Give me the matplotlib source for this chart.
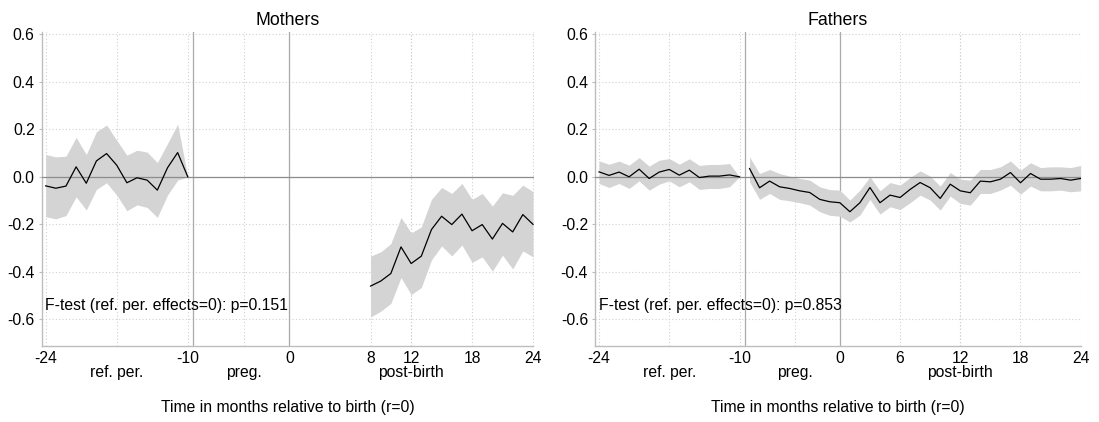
#!/usr/bin/env python3

import matplotlib
matplotlib.use('Agg')
import matplotlib.pyplot as plt
import numpy as np

plt.rcParams['font.family'] = ['Liberation Sans', 'DejaVu Sans']
plt.rcParams['axes.unicode_minus'] = False

# ======================================================================
# Data.
# ======================================================================

ref_months = list(range(-24, -9))          # -24 .. -10
post_months_m = list(range(8, 25))         # mothers: 8 .. 24
after_months_f = list(range(-9, 25))       # fathers: -9 .. 24

m_ref = [-0.038, -0.048, -0.039, 0.042, -0.027, 0.067, 0.098, 0.049, -0.025,
         -0.004, -0.014, -0.056, 0.038, 0.102, 0.0]
m_ref_hi = [0.094, 0.084, 0.087, 0.166, 0.094, 0.190, 0.218, 0.154, 0.091,
            0.112, 0.104, 0.060, 0.140, 0.222, 0.0]
m_ref_lo = [-0.168, -0.177, -0.163, -0.084, -0.140, -0.053, -0.025, -0.077,
            -0.143, -0.118, -0.129, -0.171, -0.077, -0.014, 0.0]

m_post = [-0.460, -0.439, -0.407, -0.295, -0.365, -0.334, -0.222, -0.166,
          -0.201, -0.157, -0.227, -0.201, -0.262, -0.196, -0.232, -0.159, -0.200]
m_post_hi = [-0.334, -0.316, -0.281, -0.171, -0.236, -0.211, -0.095, -0.045,
             -0.070, -0.028, -0.095, -0.070, -0.123, -0.067, -0.078, -0.035, -0.062]
m_post_lo = [-0.590, -0.566, -0.533, -0.424, -0.496, -0.466, -0.350, -0.291,
             -0.333, -0.287, -0.360, -0.337, -0.397, -0.330, -0.388, -0.312, -0.337]

f_ref = [0.021, 0.006, 0.020, 0.0, 0.032, -0.007, 0.020, 0.031, 0.007, 0.028,
         -0.003, 0.003, 0.003, 0.008, 0.0]
f_ref_hi = [0.067, 0.053, 0.066, 0.049, 0.081, 0.045, 0.070, 0.077, 0.053,
            0.076, 0.048, 0.052, 0.052, 0.056, 0.0]
f_ref_lo = [-0.028, -0.045, -0.028, -0.049, -0.017, -0.056, -0.031, -0.017,
            -0.042, -0.021, -0.053, -0.049, -0.049, -0.042, 0.0]

f_after = [0.035, -0.046, -0.018, -0.042, -0.049, -0.059, -0.066, -0.095, -0.105,
           -0.109, -0.147, -0.109, -0.045, -0.109, -0.077, -0.087, -0.053, -0.024,
           -0.046, -0.091, -0.031, -0.059, -0.067, -0.018, -0.021, -0.010, 0.018,
           -0.025, 0.014, -0.010, -0.010, -0.007, -0.014, -0.007]
f_after_hi = [0.084, 0.014, 0.031, 0.014, 0.003, -0.007, -0.014, -0.042, -0.054,
              -0.056, -0.098, -0.056, 0.0, -0.059, -0.024, -0.035, -0.003, 0.025,
              0.003, -0.039, 0.018, -0.010, -0.014, 0.031, 0.031, 0.042, 0.067,
              0.028, 0.059, 0.039, 0.042, 0.042, 0.039, 0.048]
f_after_lo = [-0.021, -0.095, -0.070, -0.095, -0.101, -0.109, -0.119, -0.147,
              -0.162, -0.166, -0.190, -0.161, -0.095, -0.157, -0.126, -0.138,
              -0.109, -0.077, -0.098, -0.140, -0.081, -0.112, -0.119, -0.070,
              -0.070, -0.056, -0.035, -0.073, -0.039, -0.059, -0.059, -0.056,
              -0.063, -0.059]

m_xticks = [-24, -10, 0, 8, 12, 18, 24]
f_xticks = [-24, -10, 0, 6, 12, 18, 24]
period_pos = [-17, -4.5, 12]
period_labels = ['ref. per.', 'preg.', 'post-birth']
yticks = [0.6, 0.4, 0.2, 0.0, -0.2, -0.4, -0.6]
pvals = ['0.151', '0.853']
titles = ['Mothers', 'Fathers']

# ======================================================================
# Layout / styles.
# ======================================================================

W, H = 1099, 422
FS = 11.3
FILL = '#d4d4d4'
AXC = '#bdbdbd'
GRID = '#d0d0d0'


def panel(rect, title, xticks, segments, pval):
    l, t, r, b = rect
    ax = fig.add_axes([l / W, 1 - b / H, (r - l) / W, (b - t) / H])
    ax.set_xlim(-24.4, 24.05)
    ax.set_ylim(-0.711, 0.611)

    for sp in ['top', 'right']:
        ax.spines[sp].set_visible(False)
    for sp in ['left', 'bottom']:
        ax.spines[sp].set_color(AXC)
        ax.spines[sp].set_linewidth(1.0)
    ax.spines['bottom'].set_bounds(-24.4, 24.0)

    # grid lines
    for yv in yticks:
        ax.axhline(yv, color=GRID, lw=0.8, ls=(0, (1, 2)), zorder=0)
    for xv in list(xticks) + period_pos:
        ax.axvline(xv, color=GRID, lw=0.8, ls=(0, (1, 2)), zorder=0)

    ax.axvline(-9.5, color='#aaaaaa', lw=0.9, zorder=1)
    ax.axvline(0, color='#aaaaaa', lw=0.9, zorder=1)

    for xs, y, lo, hi in segments:
        ax.fill_between(xs, lo, hi, color=FILL, lw=0, zorder=2)
    ax.axhline(0, color='#8c8c8c', lw=0.9, zorder=3)
    for xs, y, lo, hi in segments:
        ax.plot(xs, y, color='black', lw=0.9, zorder=4)

    ax.set_xticks(xticks)
    ax.set_xticklabels([str(v) for v in xticks])
    ax.set_yticks(yticks)
    ax.set_yticklabels(['%.1f' % v for v in yticks])
    ax.tick_params(axis='x', length=0, pad=3.5, labelsize=FS)
    ax.tick_params(axis='y', length=2.5, width=0.8, color=AXC, pad=2.5,
                   labelsize=FS)

    tr = ax.get_xaxis_transform()
    for xp, lab in zip(period_pos, period_labels):
        ax.text(xp, -0.062, lab, transform=tr, ha='center', va='top',
                fontsize=FS)

    ax.text(0.5, -0.172, 'Time in months relative to birth (r=0)',
            transform=ax.transAxes, ha='center', va='top', fontsize=FS)
    ax.set_title(title, fontsize=12.8, pad=5)
    ax.text(-24.05, -0.54, 'F-test (ref. per. effects=0): p=' + pval,
            ha='left', va='center', fontsize=FS, zorder=5)
    return ax


fig = plt.figure(figsize=(W / 100, H / 100), dpi=100)
fig.patch.set_facecolor('white')

panel((41.6, 31.7, 533.5, 345.7), titles[0], m_xticks,
      [(ref_months, m_ref, m_ref_lo, m_ref_hi),
       (post_months_m, m_post, m_post_lo, m_post_hi)], pvals[0])

panel((595.0, 31.7, 1081.2, 345.7), titles[1], f_xticks,
      [(ref_months, f_ref, f_ref_lo, f_ref_hi),
       (after_months_f, f_after, f_after_lo, f_after_hi)], pvals[1])

fig.savefig('out.png', dpi=100)
plt.close()
